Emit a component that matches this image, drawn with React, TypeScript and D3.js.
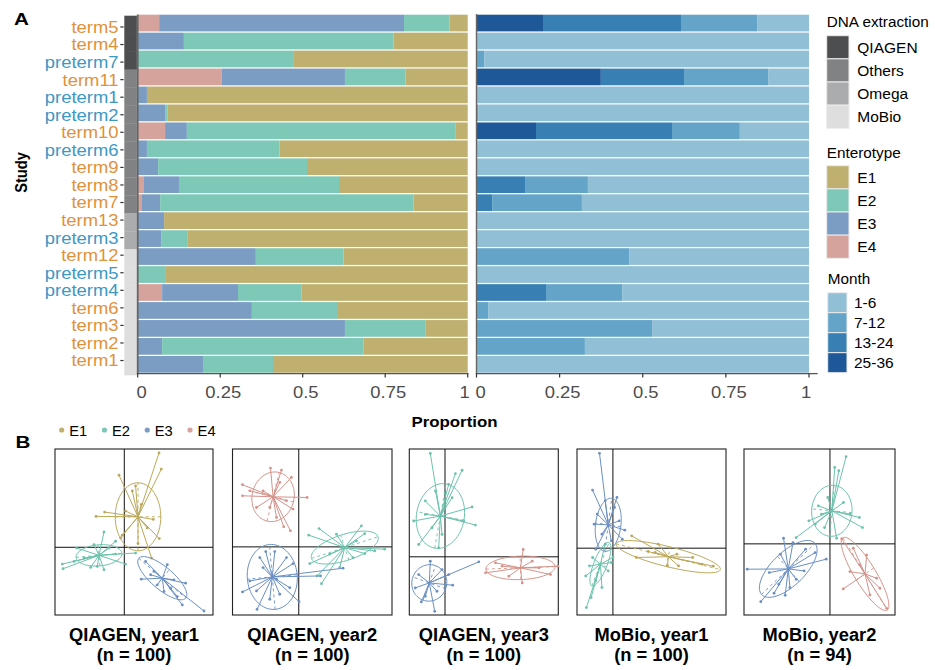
import * as d3 from "d3";

// ---- panel A data ----
const studies = ["term5", "term4", "preterm7", "term11", "preterm1", "preterm2", "term10", "preterm6", "term9", "term8",
  "term7", "term13", "preterm3", "term12", "preterm5", "preterm4", "term6", "term3", "term2", "term1"];
const extraction = ["QIAGEN", "QIAGEN", "QIAGEN", "Others", "Others", "Others", "Others", "Others", "Others", "Others",
  "Others", "Omega", "Omega", "MoBio", "MoBio", "MoBio", "MoBio", "MoBio", "MoBio", "MoBio"];
const extractionKinds = ["QIAGEN", "Others", "Omega", "MoBio"];
const enterotypes = ["E1", "E2", "E3", "E4"];
const propE1 = [0.055, 0.225, 0.529, 0.188, 0.972, 0.909, 0.036, 0.57, 0.487, 0.39, 0.164, 0.92, 0.85, 0.376, 0.917, 0.503, 0.396, 0.127, 0.315, 0.59];
const propE2 = [0.138, 0.635, 0.471, 0.184, 0, 0.008, 0.815, 0.402, 0.451, 0.485, 0.768, 0, 0.079, 0.266, 0.083, 0.193, 0.258, 0.245, 0.611, 0.212];
const propE3 = [0.742, 0.14, 0, 0.373, 0.028, 0.083, 0.066, 0.028, 0.062, 0.106, 0.055, 0.08, 0.071, 0.358, 0, 0.23, 0.346, 0.628, 0.074, 0.198];
const propE4 = [0.065, 0, 0, 0.255, 0, 0, 0.083, 0, 0, 0.019, 0.013, 0, 0, 0, 0, 0.074, 0, 0, 0, 0];
const months = ["1-6", "7-12", "13-24", "25-36"];
const month1to6 = [0.156, 1, 0.977, 0.123, 1, 0.995, 0.208, 1, 1, 0.665, 0.683, 1, 1, 0.541, 1, 0.562, 0.965, 0.472, 0.674, 1];
const month7to12 = [0.229, 0, 0.023, 0.253, 0, 0.005, 0.204, 0, 0, 0.189, 0.27, 0, 0, 0.459, 0, 0.229, 0.035, 0.528, 0.326, 0];
const month13to24 = [0.415, 0, 0, 0.25, 0, 0, 0.409, 0, 0, 0.146, 0.047, 0, 0, 0, 0, 0.209, 0, 0, 0, 0];
const month25to36 = [0.2, 0, 0, 0.374, 0, 0, 0.179, 0, 0, 0, 0, 0, 0, 0, 0, 0, 0, 0, 0, 0];
const propTicks = [0, 0.25, 0.5, 0.75, 1];
const propTickLabels = ["0", "0.25", "0.5", "0.75", "1"];

// ---- panel B data (ordination coordinates, centroid at ell[0..1]) ----
const panelTitles = ["QIAGEN, year1", "QIAGEN, year2", "QIAGEN, year3", "MoBio, year1", "MoBio, year2"];
const panelN = [100, 100, 100, 100, 94];
const panelXDomain = [[-69.3, 88.7], [-66.3, 93.3], [-35.7, 113.3], [-38.3, 120.6], [-90.7, 68.6]];
const panelYDomain = [[-67.3, 97.7], [-68, 97.7], [-58, 107.5], [-66.7, 99], [-71, 94.7]];

// ellipse: [cx, cy, semi-axis a, semi-axis b, angle of a in degrees]
const q1E1 = { ell: [13.7, 30.3, 33.8, 22.8, 90], pts: [[34.7, 93.7], [37, 77.7], [-5.3, 71.7], [-28.3, 30.7], [-19.7, 35], [29, 27.7], [35, 8.7], [13.7, 3.7], [-3.7, 9.3], [1.3, 36], [17, 42.7], [8, 56], [23, 19.3], [27.3, -10.7], [11.3, 61], [-2, 12]] };
const q1E2 = { ell: [-25.3, -8, 23, 10.5, 5], pts: [[-62, -16.7], [-61.3, -21.3], [-47.7, -0.7], [-20.3, 15.3], [-8.7, 6], [1.3, -16.7], [11.3, -5.7], [-20.3, -22.3], [-33.7, -20], [-40.3, -10.7], [-8.7, -6.7], [-50.3, -14], [-30.3, 2.7], [-15.3, -0.7], [-27, -19]] };
const q1E3 = { ell: [38, -30.7, 30.7, 11, -40], pts: [[79.7, -63.3], [58, -57.3], [61.3, -35.7], [17, -31.7], [29.7, -24], [43, -17.3], [46.3, -40.7], [33, -37.3], [26.3, -27.3], [49.7, -32.3], [39.7, -44], [53, -49], [21.3, -14]] };

const q2E4 = { ell: [-25.7, 50, 25, 21, 76], pts: [[-56.3, 62], [-56.3, 51], [-28.3, 78.7], [-17.3, 76.7], [-7.3, 69.3], [8.3, 49.3], [-5.7, 37.7], [-8.3, 16], [-15, 20], [-42.3, 39.3], [-35.7, 56], [-22.3, 29.3], [-19, 64.3], [-29, 39.3], [-49, 56], [-12.3, 46]] };
const q2E2 = { ell: [46, -0.7, 35, 13, 18], pts: [[10, 11.7], [20.3, 18.3], [62.7, 21], [66, 13.3], [86, -2.3], [76, -4], [66, -6.7], [22.7, -36.7], [18.3, -29], [11, -16.7], [37.7, 12.7], [54.3, -10.7], [31, -7.3], [57.7, 6], [41, -20.7]] };
const q2E3 = { ell: [-26.5, -30, 32.5, 25, 95], pts: [[-56.3, -45], [-41.7, -62.3], [-33, -4.7], [-24, -4.7], [-5.7, -16.7], [21.7, -29], [0.3, -54.7], [-19, -47.3], [-35.7, -20.7], [-49, -34], [-9, -40.7], [-29, -52.3], [-12.3, -10.7], [-39, -10.7], [-22.3, -32.3], [-42.3, -44], [44.3, -21.3]] };

const q3E2 = { ell: [-4.6, 40.7, 32.5, 23.9, 80], pts: [[-14.7, 103], [17.1, 86.3], [10.4, 83], [27.1, 49.7], [30.4, 31.7], [3.7, 72.3], [-26.3, 12.3], [-31.4, 35.7], [-19.7, 55.7], [-6.3, 9], [18.7, 35.7], [-3, 22.3], [-13, 29], [7.1, 59], [-19.7, 42.3], [-9.6, 65.7]] };
const q3E3 = { ell: [-15.7, -26, 18.3, 17.4, 70], pts: [[33.8, -5], [7.7, -28.3], [-10.3, -54.3], [-23.7, -45], [-29.7, -31], [-14.7, -4.3], [-3, -12.7], [-26.3, -17.7], [3.7, -17.7], [-19.7, -39.3], [-8, -34.3]] };
const q3E4 = { ell: [75.5, -11, 34.6, 11.7, 2], pts: [[40.5, -16], [78.2, 7.3], [112.9, -9.3], [105.6, -17.7], [77.2, -26], [57.2, -9.3], [93.9, -11], [63.8, -19.3], [87.2, -4.3], [50.5, -6]] };

const m1E3 = { ell: [-5, 23.3, 26.7, 13.5, 82], pts: [[-14.3, 94.7], [-21.7, 58], [4.3, 50.7], [12.7, 18], [10, 9], [-18.3, -1], [-16.7, 34], [1.7, 40.7], [-11.7, 14], [-1.7, 7.3], [-20, 24], [-8.3, 47.3], [6.7, 27.3]] };
const m1E2 = { ell: [-13.3, -16, 23.5, 7, 67], pts: [[-28.3, -59.3], [-29, -27.7], [-23.3, -49.3], [-1.7, -14.3], [0, -9.3], [-8.3, 4], [-21.7, -9.3], [-18.3, -32.7], [-5, -22.7], [-25, -17.7], [-11.7, -39.3]] };
const m1E1 = { ell: [59, -8.5, 57, 10, -13], pts: [[20, 12.3], [25, -9.3], [37.7, -3.3], [48.3, 4], [58.3, -17.7], [70, -17.7], [85, -9.3], [95, -16], [68.3, -6], [45, -4.3], [107, -18]] };

const m2E2 = { ell: [2, 33, 25.5, 21.3, 85], pts: [[17, 87], [9.3, 73], [5, 76.3], [34.3, 16.3], [31, 26.3], [-12.3, 38], [-22.3, 23], [-35.7, 6.3], [7, 5.7], [-5.7, 16.3], [-9, 29.7], [14.3, 41.3], [21, 29.7], [-2.3, 46.3], [-15.7, 19.7]] };
const m2E3 = { ell: [-44, -25, 38, 17, 42], pts: [[-87.3, -25.3], [-73, -57.7], [-59, -49.3], [-47.3, -51.3], [-4, -15.3], [-15.7, -8.7], [-49, 5.7], [-39, 1.3], [-25.7, -5.3], [-35.7, -35.3], [-54, -40.3], [-64, -28.7], [-27.3, -27], [-42.3, -43.7], [-52.3, -10.3]] };
const m2E4 = { ell: [37, -30, 43, 11, -57], pts: [[14, -45], [59.8, -64.3], [12.3, 5], [24.6, -4.3], [52.7, -44.3], [42.2, -51], [31.6, -21], [49.2, -34.3], [38.7, -11], [21.1, -27.7]] };

const panelClusters = [
  [["E1", q1E1], ["E2", q1E2], ["E3", q1E3]],
  [["E4", q2E4], ["E2", q2E2], ["E3", q2E3]],
  [["E2", q3E2], ["E3", q3E3], ["E4", q3E4]],
  [["E1", m1E1], ["E3", m1E3], ["E2", m1E2]],
  [["E2", m2E2], ["E3", m2E3], ["E4", m2E4]],
];

// ---- styles ----
const enteroColor = d3.scaleOrdinal(enterotypes, ["#bfb06f", "#7dc8b7", "#7b9cc3", "#d5a39b"]);
const spokeColor = d3.scaleOrdinal(enterotypes, ["#bba85a", "#6cc2ad", "#6b8fc2", "#d4938a"]);
const monthColor = d3.scaleOrdinal(months, ["#91bfd6", "#63a4c8", "#387fb3", "#1f5899"]);
const extractionColor = d3.scaleOrdinal(extractionKinds, ["#4d4e50", "#808284", "#abacae", "#dedede"]);
const FONT = "'Liberation Sans', Arial, Helvetica, sans-serif";
const panelBoxes = [[55, 158], [232.5, 159.5], [409.3, 149], [577, 149], [744, 151]];

// the axis text of panel A is horizontally stretched in the figure
function WideText({ x, y, sx = 1.13, anchor = "start", children, ...rest }: any) {
  return (
    <text transform={`translate(${x},${y}) scale(${sx},1)`} textAnchor={anchor} {...rest}>{children}</text>
  );
}

function ScatterPanel({ idx }: { idx: number }) {
  const [left, width] = panelBoxes[idx];
  const top = 449, bottom = 615;
  const xs = d3.scaleLinear().domain(panelXDomain[idx]).range([left, left + width]);
  const ys = d3.scaleLinear().domain(panelYDomain[idx]).range([bottom, top]);
  const cx = left + width / 2;
  return (
    <g>
      <rect x={left} y={top} width={width} height={bottom - top} fill="white" stroke="#222" strokeWidth={1.1} />
      <line x1={xs(0)} x2={xs(0)} y1={top} y2={bottom} stroke="#111" strokeWidth={1} />
      <line x1={left} x2={left + width} y1={ys(0)} y2={ys(0)} stroke="#111" strokeWidth={1} />
      {panelClusters[idx].map(([key, cl]: any) => {
        const [ex, ey, a, b, ang] = cl.ell;
        const th = (ang * Math.PI) / 180;
        const ux = Math.cos(th), uy = Math.sin(th);
        const ts = d3.range(0, 2 * Math.PI, Math.PI / 40);
        const path = d3.line<number>()
          .x((t) => xs(ex + a * Math.cos(t) * ux - b * Math.sin(t) * uy))
          .y((t) => ys(ey + a * Math.cos(t) * uy + b * Math.sin(t) * ux))
          .curve(d3.curveLinearClosed)(ts);
        const col = spokeColor(key);
        return (
          <g key={key}>
            <path d={path || ""} fill="none" stroke={col} strokeWidth={1} />
            <line x1={xs(ex - a * ux)} y1={ys(ey - a * uy)} x2={xs(ex + a * ux)} y2={ys(ey + a * uy)}
              stroke={col} strokeWidth={0.9} strokeDasharray="3,3" />
            <line x1={xs(ex + b * uy)} y1={ys(ey - b * ux)} x2={xs(ex - b * uy)} y2={ys(ey + b * ux)}
              stroke={col} strokeWidth={0.9} strokeDasharray="3,3" />
            {cl.pts.map((p: number[], i: number) => (
              <g key={i}>
                <line x1={xs(ex)} y1={ys(ey)} x2={xs(p[0])} y2={ys(p[1])} stroke={col} strokeWidth={1} />
                <circle cx={xs(p[0])} cy={ys(p[1])} r={1.4} fill={col} />
              </g>
            ))}
          </g>
        );
      })}
      <text x={cx} y={641} textAnchor="middle" fontWeight="bold" fontSize={18.3}>
        {panelTitles[idx]}
      </text>
      <text x={cx} y={661} textAnchor="middle" fontWeight="bold" fontSize={18.3}>
        {`(n = ${panelN[idx]})`}
      </text>
    </g>
  );
}

export default function App() {
  const enteroTable = studies.map((s, i) => ({ study: s, E1: propE1[i], E2: propE2[i], E3: propE3[i], E4: propE4[i] }));
  const monthTable = studies.map((s, i) => ({
    study: s, "1-6": month1to6[i], "7-12": month7to12[i], "13-24": month13to24[i], "25-36": month25to36[i],
  }));
  const enteroStack = d3.stack<any>().keys(["E4", "E3", "E2", "E1"])(enteroTable);
  const monthStack = d3.stack<any>().keys(["25-36", "13-24", "7-12", "1-6"])(monthTable);

  const yBar = d3.scaleBand().domain(studies).range([14.7, 372.7]).paddingInner(0.07);
  const yStrip = d3.scaleBand().domain(studies).range([15.7, 375]);
  const yLab = d3.scaleBand().domain(studies).range([18.2, 369.3]);
  const xL = d3.scaleLinear().domain([0, 1]).range([137.7, 467.7]);
  const xR = d3.scaleLinear().domain([0, 1]).range([476.5, 809]);
  const axisY = 373.6;

  const dnaKeys = d3.scaleBand().domain(extractionKinds).range([35.7, 128.3]);
  const entKeys = d3.scaleBand().domain(enterotypes).range([165.7, 258.3]);
  const monKeys = d3.scaleBand().domain(months).range([292.7, 372.7]);

  const bLegendX = d3.scalePoint().domain(enterotypes).range([61.7, 190]);

  return (
    <svg width={935} height={670} style={{ position: "absolute", left: 0, top: 0, background: "white" }} fontFamily={FONT}>
      <rect width={935} height={670} fill="white" />
      <WideText x={14} y={25} sx={1.25} fontWeight="bold" fontSize={16.5}>A</WideText>
      <WideText x={15.5} y={448.3} sx={1.25} fontWeight="bold" fontSize={16.5}>B</WideText>

      {/* extraction strip */}
      {studies.map((s, i) => (
        <rect key={s} x={124.3} y={yStrip(s)} width={12.6} height={yStrip.bandwidth() + 0.3} fill={extractionColor(extraction[i])} />
      ))}
      {/* study labels */}
      {studies.map((s) => {
        const y = (yLab(s) as number) + yLab.bandwidth() / 2;
        return (
          <g key={s}>
            <line x1={120.3} x2={123.6} y1={y} y2={y} stroke="#333" strokeWidth={1.2} />
            <WideText x={118.5} y={y} dy="0.36em" anchor="end" fontSize={16.3} fill={s.startsWith("pre") ? "#3c98c3" : "#e0923a"}>{s}</WideText>
          </g>
        );
      })}
      <text transform="translate(26.5,172.5) rotate(-90) scale(1,1.15)" textAnchor="middle" fontWeight="bold" fontSize={14.6}>Study</text>

      {/* enterotype bars */}
      {enteroStack.map((layer) => (
        <g key={layer.key} fill={enteroColor(layer.key)}>
          {layer.map((d: any) => (
            <rect key={d.data.study} x={xL(d[0])} width={Math.max(0, xL(d[1]) - xL(d[0]))}
              y={yBar(d.data.study)} height={yBar.bandwidth()} />
          ))}
        </g>
      ))}
      {/* month bars */}
      {monthStack.map((layer) => (
        <g key={layer.key} fill={monthColor(layer.key)}>
          {layer.map((d: any) => (
            <rect key={d.data.study} x={xR(d[0])} width={Math.max(0, xR(d[1]) - xR(d[0]))}
              y={yBar(d.data.study)} height={yBar.bandwidth()} />
          ))}
        </g>
      ))}

      {/* axes */}
      <line x1={xL(0)} x2={xL(0)} y1={14.5} y2={axisY} stroke="#666" strokeWidth={1.8} />
      <line x1={136.8} x2={468.5} y1={axisY} y2={axisY} stroke="#555" strokeWidth={1.4} />
      <line x1={xR(0)} x2={xR(0)} y1={14} y2={axisY} stroke="#666" strokeWidth={1.4} />
      <line x1={475.8} x2={817.7} y1={axisY} y2={axisY} stroke="#555" strokeWidth={1.4} />
      {[xL, xR].map((xs, k) => (
        <g key={k}>
          {propTicks.map((t, i) => (
            <g key={t}>
              <line x1={xs(t)} x2={xs(t)} y1={axisY} y2={axisY + 4} stroke="#333" strokeWidth={1.2} />
              <WideText x={xs(t) + (i === 0 ? 4 : i === 4 ? -3 : 3)} y={398} anchor="middle" fontSize={16.3} fill="#4d4d4d">
                {propTickLabels[i]}
              </WideText>
            </g>
          ))}
        </g>
      ))}
      <WideText x={454.5} y={427} sx={1.17} anchor="middle" fontWeight="bold" fontSize={14.4}>Proportion</WideText>

      {/* legends */}
      <text x={826.7} y={27} fontSize={15.3}>DNA extraction</text>
      {extractionKinds.map((k) => (
        <g key={k}>
          <rect x={826.7} y={dnaKeys(k)} width={22.3} height={dnaKeys.bandwidth()} fill={extractionColor(k)} stroke="#ececec" strokeWidth={1} />
          <text x={857.3} y={(dnaKeys(k) as number) + dnaKeys.bandwidth() / 2} dy="0.36em" fontSize={15.5}>{k}</text>
        </g>
      ))}
      <text x={826.7} y={158} fontSize={15.3}>Enterotype</text>
      {enterotypes.map((k) => (
        <g key={k}>
          <rect x={826.7} y={entKeys(k)} width={22.3} height={entKeys.bandwidth()} fill={enteroColor(k)} stroke="#ececec" strokeWidth={1} />
          <text x={857.3} y={(entKeys(k) as number) + entKeys.bandwidth() / 2} dy="0.36em" fontSize={15.5}>{k}</text>
        </g>
      ))}
      <text x={827.7} y={284.3} fontSize={15.3}>Month</text>
      {months.map((k) => (
        <g key={k}>
          <rect x={827.7} y={monKeys(k)} width={19.3} height={monKeys.bandwidth()} fill={monthColor(k)} stroke="#ececec" strokeWidth={1} />
          <text x={854} y={(monKeys(k) as number) + monKeys.bandwidth() / 2} dy="0.36em" fontSize={15.5}>{k}</text>
        </g>
      ))}

      {/* panel B legend */}
      {enterotypes.map((k) => (
        <g key={k}>
          <circle cx={bLegendX(k)} cy={430} r={2.6} fill={enteroColor(k)} />
          <text x={(bLegendX(k) as number) + 7.6} y={435.5} fontSize={14.7}>{k}</text>
        </g>
      ))}

      {panelTitles.map((_, i) => <ScatterPanel key={i} idx={i} />)}
    </svg>
  );
}
